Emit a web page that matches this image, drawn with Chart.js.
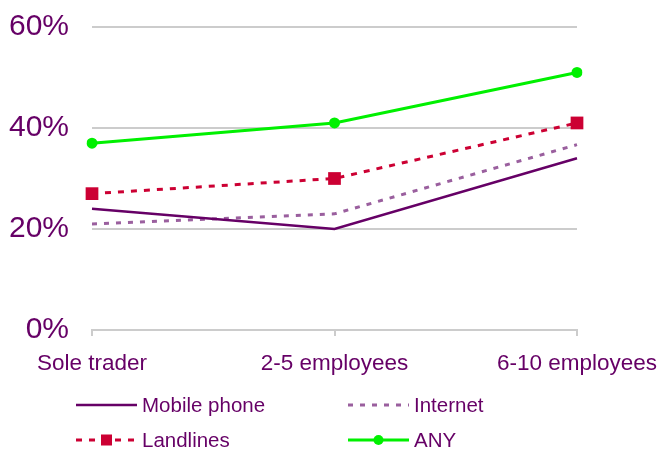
<!DOCTYPE html>
<html>
<head>
<meta charset="utf-8">
<script src="https://cdn.jsdelivr.net/npm/chart.js@4/dist/chart.umd.min.js"></script>
<style>
  html, body { margin: 0; padding: 0; background: #fff; }
  #wrap { width: 657px; height: 451px; }
</style>
</head>
<body>
<div id="wrap"><canvas id="chart" width="657" height="451"></canvas></div>
<script>
const categories = ["Sole trader", "2-5 employees", "6-10 employees"];
const mobilePhone = [24, 20, 34];
const internet = [21, 23, 36.7];
const landlines = [27, 30, 41];
const anyChannel = [37, 41, 51];
const yTicks = [0, 20, 40, 60];

const PURPLE = "#660066";
const FONT = "'Liberation Sans', Arial, sans-serif";

// two-column legend under the axis
const legendGrid = {
  id: "legendGrid",
  afterDraw(chart) {
    const ctx = chart.ctx;
    const cols = [76, 348];
    const rows = [405, 440];
    chart.data.datasets.forEach((ds, i) => {
      const x0 = cols[i % 2], y = rows[Math.floor(i / 2)];
      const x1 = x0 + 61;
      ctx.save();
      ctx.strokeStyle = ds.borderColor;
      ctx.lineWidth = ds.borderWidth;
      ctx.setLineDash(ds.borderDash || []);
      ctx.beginPath();
      ctx.moveTo(x0, y);
      ctx.lineTo(x1, y);
      ctx.stroke();
      ctx.setLineDash([]);
      if (ds.pointRadius > 0) {
        ctx.fillStyle = ds.pointBackgroundColor;
        const cx = (x0 + x1) / 2;
        if (ds.pointStyle === "rect") {
          ctx.fillRect(cx - 5.5, y - 5.5, 11, 11);
        } else {
          ctx.beginPath();
          ctx.arc(cx, y, 5, 0, Math.PI * 2);
          ctx.fill();
        }
      }
      ctx.fillStyle = PURPLE;
      ctx.font = "20.5px " + FONT;
      ctx.textBaseline = "middle";
      ctx.fillText(ds.label, x1 + 5, y + 1);
      ctx.restore();
    });
  }
};

new Chart(document.getElementById("chart"), {
  type: "line",
  data: {
    labels: categories,
    datasets: [
      {
        label: "Mobile phone",
        data: mobilePhone,
        borderColor: PURPLE,
        borderWidth: 2.5,
        pointRadius: 0,
        tension: 0
      },
      {
        label: "Internet",
        data: internet,
        borderColor: "#9a5f9e",
        borderWidth: 3,
        borderDash: [5, 7],
        pointRadius: 0,
        tension: 0
      },
      {
        label: "Landlines",
        data: landlines,
        borderColor: "#cc0033",
        borderWidth: 3,
        borderDash: [6, 7],
        pointStyle: "rect",
        pointRadius: 9,
        pointBackgroundColor: "#cc0033",
        pointBorderColor: "#cc0033",
        pointBorderWidth: 0,
        tension: 0
      },
      {
        label: "ANY",
        data: anyChannel,
        borderColor: "#00f000",
        borderWidth: 3,
        pointStyle: "circle",
        pointRadius: 5.5,
        pointBackgroundColor: "#00f000",
        pointBorderColor: "#00f000",
        pointBorderWidth: 0,
        tension: 0
      }
    ]
  },
  options: {
    responsive: false,
    animation: false,
    layout: { padding: { top: 27, right: 80, left: 0, bottom: 0 } },
    plugins: {
      legend: { display: false },
      tooltip: { enabled: false }
    },
    scales: {
      x: {
        offset: false,
        grid: {
          drawOnChartArea: false,
          drawTicks: true,
          tickLength: 6,
          color: "#cccccc",
          lineWidth: 2
        },
        border: { display: true, color: "#cccccc", width: 2 },
        ticks: {
          color: PURPLE,
          font: { family: FONT, size: 22.5 },
          padding: 14,
          maxRotation: 0,
          autoSkip: false
        },
        afterFit(s) {
          s.height = 121;
          s.paddingLeft = 0;
          s.paddingRight = 0;
        }
      },
      y: {
        min: 0,
        max: 60,
        afterBuildTicks(s) { s.ticks = yTicks.map(v => ({ value: v })); },
        grid: { color: "#cccccc", lineWidth: 2, drawTicks: false },
        border: { display: false },
        ticks: {
          color: PURPLE,
          font: { family: FONT, size: 30 },
          padding: 23,
          callback: v => v + "%"
        },
        afterFit(s) {
          s.width = 92;
          s.paddingTop = 0;
          s.paddingBottom = 0;
        }
      }
    }
  },
  plugins: [legendGrid]
});
</script>
</body>
</html>
